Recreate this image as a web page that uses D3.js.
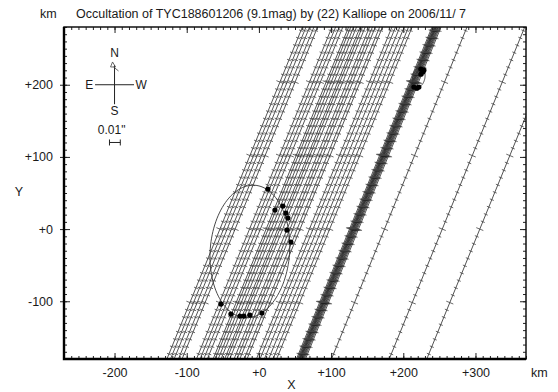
<!DOCTYPE html>
<html><head><meta charset="utf-8">
<script src="https://cdn.jsdelivr.net/npm/d3@7"></script>
<style>
body{margin:0;background:#fff}
svg{display:block}
text{font-family:"Liberation Sans",Arial,Helvetica,sans-serif;fill:#1a1a1a}
</style>
</head><body><div id="chart"></div>
<script>
// ---------------- data ----------------
const titleText = "Occultation of TYC188601206 (9.1mag) by (22) Kalliope on 2006/11/ 7";
const xDomain = [-270, 370];
const yDomain = [-180, 280];
const xMajorTicks = [-200, -100, 0, 100, 200, 300];
const xTickLabels = ["-200", "-100", "+0", "+100", "+200", "+300"];
const yMajorTicks = [-100, 0, 100, 200];
const yTickLabels = ["-100", "+0", "+100", "+200"];
const minorStep = 10;

// chords: x-intercept (km) at Y = 0, all parallel
const chordAngleDeg = 67.8;
const chordX0 = [
  -54, -49, -44, -38, -33,
  -13, -8, -3, 2,
  10, 13, 17, 21, 26, 29, 33, 39, 43, 47, 53, 57,
  70, 75, 81, 87, 93, 98,
  125.5, 127, 128, 129, 129.7, 130.5, 131.2, 132, 133, 134, 135, 136.3, 138,
  174, 254, 306
];
const chordTickKm = 11;

// fitted outlines: [cx, cy, semi-axis a (along Y), semi-axis b (along X), tilt deg]
const mainEllipse = [-12.5, -31, 92, 55, -4.3];
const moonEllipse = [221.5, 210.5, 14, 8.5, -10];

// event points (km)
const eventX = [12.5, 22.2, 33.2, 37.4, 40.2, 38.8, 44.3, -52.6, -38.8, -26.3, -20.8, -12.5, 4.2,
                224.4, 227.1, 224.4, 228.5, 214.7, 218.8, 221.6];
const eventY = [55.4, 26.3, 31.9, 22.2, 15.2, -1.4, -18.0, -103.9, -117.7, -120.5, -120.5, -119.1, -116.3,
                221.6, 217.5, 214.7, 220.2, 196.7, 195.3, 196.7];

// compass / scale
const compassCenter = [-200, 200];
const compassArm = 27;
const scaleBarKm = 15;

// ---------------- layout ----------------
const W = 558, H = 392;
const M = {left: 64, right: 32, top: 27, bottom: 33};
const x = d3.scaleLinear().domain(xDomain).range([M.left, W - M.right]);
const y = d3.scaleLinear().domain(yDomain).range([H - M.bottom, M.top]);

const svg = d3.select("#chart").append("svg").attr("width", W).attr("height", H);

svg.append("defs").append("clipPath").attr("id", "clip")
  .append("rect").attr("x", x(xDomain[0])).attr("y", y(yDomain[1]))
  .attr("width", x(xDomain[1]) - x(xDomain[0])).attr("height", y(yDomain[0]) - y(yDomain[1]));

const plot = svg.append("g").attr("clip-path", "url(#clip)");

// ---------------- chords ----------------
const th = chordAngleDeg * Math.PI / 180;
const dx = Math.cos(th), dy = Math.sin(th);
const pdx = x(dx) - x(0), pdy = y(dy) - y(0);
const plen = Math.hypot(pdx, pdy);
const nx = -pdy / plen, ny = pdx / plen;

chordX0.forEach(x0 => {
  const p1 = [x(x0 - 700 * dx), y(-700 * dy)];
  const p2 = [x(x0 + 700 * dx), y(700 * dy)];
  plot.append("line").attr("x1", p1[0]).attr("y1", p1[1]).attr("x2", p2[0]).attr("y2", p2[1])
    .attr("stroke", "#1a1a1a").attr("stroke-width", 0.75);
  let d = "";
  for (let k = -70; k <= 70; k++) {
    const t = k * chordTickKm;
    const px = x(x0 + t * dx), py = y(t * dy);
    if (px < M.left - 8 || px > W - M.right + 8 || py < M.top - 8 || py > H - M.bottom + 8) continue;
    const h = (k % 10 === 0) ? 3.8 : 2.1;
    d += `M${(px - nx * h).toFixed(2)},${(py - ny * h).toFixed(2)}L${(px + nx * h).toFixed(2)},${(py + ny * h).toFixed(2)}`;
  }
  plot.append("path").attr("d", d).attr("stroke", "#444").attr("stroke-width", 0.8).attr("fill", "none");
});

// ---------------- ellipses ----------------
function ellipsePath(e) {
  const [cx, cy, a, b, tilt] = e;
  const r = tilt * Math.PI / 180;
  const pts = d3.range(0, 361, 3).map(deg => {
    const u = deg * Math.PI / 180;
    const ex = b * Math.cos(u), ey = a * Math.sin(u);
    return [x(cx + ex * Math.cos(r) - ey * Math.sin(r)), y(cy + ex * Math.sin(r) + ey * Math.cos(r))];
  });
  return d3.line()(pts) + "Z";
}
[mainEllipse, moonEllipse].forEach(e => {
  plot.append("path").attr("d", ellipsePath(e)).attr("fill", "none").attr("stroke", "#333").attr("stroke-width", 0.9);
});

// ---------------- events ----------------
plot.selectAll("circle.ev").data(eventX.map((v, i) => [v, eventY[i]])).enter()
  .append("circle").attr("class", "ev")
  .attr("cx", d => x(d[0])).attr("cy", d => y(d[1])).attr("r", 2.6).attr("fill", "#000");

// ---------------- frame & axes ----------------
const xb = H - M.bottom, xt = M.top, yl = M.left, yr = W - M.right;
const minorX = d3.range(-260, 371, minorStep);
const minorY = d3.range(-180, 281, minorStep);

function noDomain(g) { g.select(".domain").remove(); g.selectAll("line").attr("stroke", "#222"); }
function styleText(g) { g.selectAll("text").attr("font-size", 12.5).style("font-family", '"Liberation Sans",Arial,sans-serif').attr("fill", "#1a1a1a"); }

svg.append("g").attr("transform", `translate(0,${xb})`)
  .call(d3.axisBottom(x).tickValues(minorX).tickSize(-3).tickFormat("")).call(noDomain);
svg.append("g").attr("transform", `translate(0,${xb})`)
  .call(d3.axisBottom(x).tickValues(xMajorTicks).tickSize(-6).tickPadding(9)
    .tickFormat((d, i) => xTickLabels[i])).call(noDomain).call(styleText);
svg.append("g").attr("transform", `translate(0,${xt})`)
  .call(d3.axisTop(x).tickValues(minorX).tickSize(-3).tickFormat("")).call(noDomain);
svg.append("g").attr("transform", `translate(0,${xt})`)
  .call(d3.axisTop(x).tickValues(xMajorTicks).tickSize(-6).tickFormat("")).call(noDomain);

svg.append("g").attr("transform", `translate(${yl},0)`)
  .call(d3.axisLeft(y).tickValues(minorY).tickSize(-3).tickFormat("")).call(noDomain);
svg.append("g").attr("transform", `translate(${yl},0)`)
  .call(d3.axisLeft(y).tickValues(yMajorTicks).tickSize(4).tickFormat("")).call(noDomain);
svg.append("g").attr("transform", `translate(${yl},0)`)
  .call(d3.axisLeft(y).tickValues(yMajorTicks).tickSize(-6).tickPadding(11)
    .tickFormat((d, i) => yTickLabels[i])).call(noDomain).call(styleText);
svg.append("g").attr("transform", `translate(${yr},0)`)
  .call(d3.axisRight(y).tickValues(minorY).tickSize(-3).tickFormat("")).call(noDomain);
svg.append("g").attr("transform", `translate(${yr},0)`)
  .call(d3.axisRight(y).tickValues(yMajorTicks).tickSize(-6).tickFormat("")).call(noDomain);

// frame
svg.append("rect").attr("x", yl).attr("y", xt).attr("width", yr - yl).attr("height", xb - xt)
  .attr("fill", "none").attr("stroke", "#111").attr("stroke-width", 1.5);
svg.append("path").attr("d", `M${yl},${xt}V${xb}H${yr}`).attr("fill", "none").attr("stroke", "#000").attr("stroke-width", 2.4);

// labels
svg.append("text").attr("x", 40).attr("y", 18).attr("font-size", 12.5).text("km");
svg.append("text").attr("x", 76).attr("y", 18).attr("font-size", 12.5).text(titleText);
svg.append("text").attr("x", 531).attr("y", 377).attr("font-size", 12.5).text("km");
svg.append("text").attr("x", x(45)).attr("y", 389).attr("text-anchor", "middle").attr("font-size", 12.5).text("X");
svg.append("text").attr("x", 19).attr("y", 196).attr("text-anchor", "middle").attr("font-size", 12.5).text("Y");

// compass
const [ccx, ccy] = compassCenter;
const cg = svg.append("g");
cg.append("line").attr("x1", x(ccx - compassArm)).attr("x2", x(ccx + compassArm)).attr("y1", y(ccy)).attr("y2", y(ccy)).attr("stroke", "#222").attr("stroke-width", 1);
cg.append("line").attr("x1", x(ccx)).attr("x2", x(ccx)).attr("y1", y(ccy + compassArm)).attr("y2", y(ccy - compassArm)).attr("stroke", "#222").attr("stroke-width", 1);
cg.append("text").attr("x", x(ccx)).attr("y", y(ccy + 45) + 4.5).attr("text-anchor", "middle").attr("font-size", 12).text("N");
cg.append("text").attr("x", x(ccx)).attr("y", y(ccy - 35) + 4.5).attr("text-anchor", "middle").attr("font-size", 12).text("S");
cg.append("text").attr("x", x(ccx - 35)).attr("y", y(ccy) + 4.5).attr("text-anchor", "middle").attr("font-size", 12).text("E");
cg.append("text").attr("x", x(ccx + 37)).attr("y", y(ccy) + 4.5).attr("text-anchor", "middle").attr("font-size", 12).text("W");
const ax = x(ccx), ay = y(ccy + 26);
cg.append("path").attr("d", `M${ax - 2},${ay - 4}L${ax - 4},${ay + 1}L${ax + 1},${ay + 1}Z M${ax - 1},${ay + 1}L${ax + 4},${ay + 5}`)
  .attr("fill", "none").attr("stroke", "#444").attr("stroke-width", 0.8);
cg.append("text").attr("x", x(ccx - 4)).attr("y", y(ccy - 62) + 4.5).attr("text-anchor", "middle").attr("font-size", 12).text("0.01\"");
const sb0 = x(ccx - 7), sb1 = x(ccx - 7 + scaleBarKm), sby = y(ccy - 80);
cg.append("path").attr("d", `M${sb0},${sby}H${sb1}M${sb0},${sby - 3}V${sby + 3}M${sb1},${sby - 3}V${sby + 3}`)
  .attr("stroke", "#222").attr("stroke-width", 1).attr("fill", "none");
</script>
</body></html>
